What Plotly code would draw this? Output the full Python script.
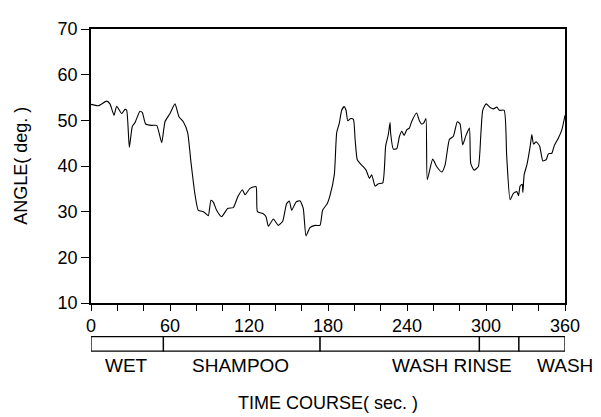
import plotly.graph_objects as go

time_s = [0, 5.6, 11.9, 14.4, 17.5, 19.5, 23.3, 25.8, 27.1, 29.1, 31.4, 33.4, 37.2, 39.0, 41.5, 46.1, 49.9,
          53.7, 56.2, 60.0, 63.8, 66.8, 70.1, 73.4, 75.9, 78.9, 81.5, 85.3, 87.1, 89.1, 91.1, 92.9, 95.4,
          99.2, 103.8, 108.1, 111.4, 115.0, 117.0, 120.8, 125.3, 126.4, 130.5, 132.9, 134.7, 138.5, 142.3,
          145.6, 148.6, 150.7, 152.4, 155.7, 158.7, 161.2, 163.3, 166.3, 170.1, 173.9, 175.9, 179.5, 181.5,
          184.8, 186.6, 188.6, 190.4, 192.2, 193.7, 195.0, 197.3, 199.3, 200.6, 202.3, 205.6, 208.9, 211.5,
          213.2, 215.8, 218.3, 221.6, 223.8, 225.8, 227.1, 227.6, 229.6, 232.2, 234.2, 236.0, 237.8, 239.8,
          241.8, 243.5, 247.3, 249.4, 251.1, 252.9, 254.4, 255.4, 259.5, 262.5, 266.4, 268.9, 272.2, 275.2,
          278.2, 280.3, 282.3, 284.8, 287.4, 288.4, 290.9, 294.2, 296.0, 297.5, 300.1, 303.2, 305.7, 308.2,
          310.2, 313.8, 315.7, 318.3, 320.8, 323.4, 324.7, 325.9, 327.5, 328.0, 329.0, 331.0, 333.6, 334.8,
          336.1, 338.1, 340.7, 343.2, 345.7, 347.5, 350.0, 351.8, 355.1, 357.6, 360.0]
angle_deg = [53.5, 53.2, 54.2, 53.6, 51.1, 53.1, 51.5, 52.4, 52.2, 44.1, 48.7, 49.5, 52.0, 51.7, 49.2, 48.9, 48.9,
             45.1, 49.7, 51.5, 53.6, 50.8, 49.7, 47.3, 40.9, 33.9, 30.3, 30.0, 29.6, 29.1, 32.5, 32.1, 30.3,
             28.9, 30.7, 30.9, 33.2, 34.8, 33.7, 35.1, 35.5, 30.0, 29.6, 28.9, 26.8, 28.4, 27.0,
             27.9, 31.8, 32.3, 30.3, 32.1, 32.4, 30.7, 24.7, 26.5, 27.0, 27.0, 30.3, 31.8, 33.5,
             38.1, 47.3, 49.4, 52.2, 53.0, 52.2, 49.9, 50.4, 50.2, 45.8, 41.3, 40.2, 39.1, 37.3,
             38.1, 35.6, 36.1, 36.3, 44.4, 46.9, 49.5, 47.1, 43.7, 43.8, 46.4, 47.6, 46.7, 47.9,
             48.3, 49.7, 51.6, 49.9, 49.2, 49.5, 50.4, 37.0, 41.5, 39.9, 38.7, 40.2, 45.8, 46.5,
             49.7, 49.2, 44.6, 46.7, 48.3, 40.6, 39.1, 39.9, 46.5, 52.2, 53.6, 52.8, 52.5, 52.9,
             52.2, 52.2, 42.3, 32.6, 34.0, 34.4, 33.5, 35.6, 36.0, 34.2, 38.1, 40.2, 44.4, 46.9,
             44.8, 45.3, 44.4, 41.1, 41.4, 42.7, 42.8, 44.4, 46.2, 47.9, 51.1]

x_ticks = [0, 60, 120, 180, 240, 300, 360]
y_ticks = [10, 20, 30, 40, 50, 60, 70]
phase_bounds = [0, 55, 174, 295, 325, 360]
phase_labels = ["WET", "SHAMPOO", "WASH RINSE", "WASH"]
phase_label_x = [26.6, 113.9, 273.8, 360]

fig = go.Figure()
fig.add_trace(go.Scatter(x=time_s, y=angle_deg, mode="lines",
                         line=dict(color="black", width=1.1, shape="spline", smoothing=0.5),
                         showlegend=False, hoverinfo="skip"))

family = "Liberation Sans, Arial, sans-serif"
font = dict(family=family, size=18, color="black")

# phase bar
bar_y0, bar_y1 = -0.176, -0.123
for a, b in zip(phase_bounds[:-1], phase_bounds[1:]):
    fig.add_shape(type="rect", xref="x", yref="paper", x0=a, x1=b, y0=bar_y0, y1=bar_y1,
                  line=dict(color="black", width=1.3), fillcolor="white")
for lab, lx in zip(phase_labels, phase_label_x):
    fig.add_annotation(x=lx, y=-0.227, xref="x", yref="paper", text=lab, showarrow=False,
                       font=dict(family=family, size=19, color="black"),
                       xanchor="center", yanchor="middle")
fig.add_annotation(x=0.5, y=-0.366, xref="paper", yref="paper", text="TIME COURSE( sec. )",
                   showarrow=False, font=dict(family=family, size=18, color="black"),
                   xanchor="center", yanchor="middle")
fig.add_annotation(x=-0.148, y=0.5, xref="paper", yref="paper", text="ANGLE( deg. )", textangle=-90,
                   showarrow=False, font=dict(family=family, size=18, color="black"),
                   xanchor="center", yanchor="middle")

fig.update_layout(
    width=593, height=409,
    margin=dict(l=83, r=36, t=11, b=114),
    paper_bgcolor="white", plot_bgcolor="white",
    font=font,
    xaxis=dict(range=[0, 360], tickvals=x_ticks, ticks="outside", ticklen=6, tickwidth=1,
               tickcolor="black", showline=True, linecolor="black", linewidth=1.5, mirror=True,
               showgrid=False, zeroline=False, tickfont=dict(size=18),
               minor=dict(dtick=20, tick0=0, ticks="outside", ticklen=6, tickcolor="black", showgrid=False)),
    yaxis=dict(range=[10, 70], tickvals=y_ticks, ticks="outside", ticklen=8, tickwidth=1,
               tickcolor="black", showline=True, linecolor="black", linewidth=1.5, mirror=True,
               showgrid=False, zeroline=False, tickfont=dict(size=18)),
)
fig.write_html("out.html")
